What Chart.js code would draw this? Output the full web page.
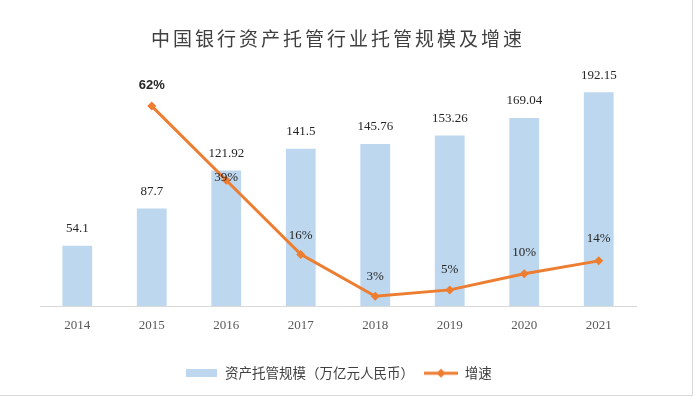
<!DOCTYPE html>
<html><head><meta charset="utf-8">
<script src="https://cdn.jsdelivr.net/npm/chart.js@4/dist/chart.umd.min.js"></script>
<style>html,body{margin:0;padding:0;background:#fff}#wrap{width:697px;height:399px;position:relative}</style>
</head><body><div id="wrap"><canvas id="c" width="697" height="399"></canvas></div>
<script>
// ---- data ----
const titleText = '中国银行资产托管行业托管规模及增速';
const years = ['2014', '2015', '2016', '2017', '2018', '2019', '2020', '2021'];
const scaleValues = [54.1, 87.7, 121.92, 141.5, 145.76, 153.26, 169.04, 192.15];
const growthValues = [null, 62, 39, 16, 3, 5, 10, 14];
const seriesNames = ['资产托管规模（万亿元人民币）', '增速'];

// ---- styles ----
const barColor = '#BDD7EE';
const lineColor = '#ED7D31';
const textColor = '#404040';
const labelColor = '#262626';
const growthLabelOffsets = [0, -21, -3, -19, -20, -20, -21, -22];

function makeBarIcon() {
  const c = document.createElement('canvas'); c.width = 31; c.height = 8;
  const x = c.getContext('2d'); x.fillStyle = barColor; x.fillRect(0, 0, 31, 8); return c;
}
function makeLineIcon() {
  const c = document.createElement('canvas'); c.width = 34; c.height = 10;
  const x = c.getContext('2d');
  x.strokeStyle = lineColor; x.lineWidth = 3; x.beginPath(); x.moveTo(0, 5); x.lineTo(34, 5); x.stroke();
  x.fillStyle = lineColor; x.beginPath(); x.moveTo(17, 0.5); x.lineTo(21.5, 5); x.lineTo(17, 9.5); x.lineTo(12.5, 5); x.closePath(); x.fill();
  return c;
}
const barIcon = makeBarIcon();
const lineIcon = makeLineIcon();

const frame = {
  id: 'frame',
  beforeDraw(chart) {
    const c = chart.ctx; c.save(); c.fillStyle = '#fff'; c.fillRect(0, 0, chart.width, chart.height); c.restore();
    const t = chart.titleBlock;
    if (t && !t.__patched) {
      const orig = t.draw.bind(t);
      t.draw = function () { const cx = this.ctx; cx.save(); cx.letterSpacing = '3px'; orig(); cx.restore(); };
      t.__patched = true;
    }
  },
  afterDraw(chart) {
    const c = chart.ctx; c.save(); c.strokeStyle = '#D9D9D9'; c.lineWidth = 1;
    c.beginPath(); c.moveTo(692.5, 0); c.lineTo(692.5, 395.5); c.lineTo(0, 395.5); c.stroke(); c.restore();
  }
};

const valueLabels = {
  id: 'valueLabels',
  afterDatasetsDraw(chart) {
    const c = chart.ctx;
    c.save();
    c.textAlign = 'center'; c.textBaseline = 'middle'; c.fillStyle = labelColor;
    c.font = '13px "Liberation Serif", "Times New Roman", serif';
    chart.getDatasetMeta(0).data.forEach((el, i) => {
      c.fillText(String(scaleValues[i]), el.x, el.y - 17);
    });
    chart.getDatasetMeta(1).data.forEach((el, i) => {
      const v = growthValues[i];
      if (v === null || v === undefined) return;
      if (i === 1) c.font = 'bold 13px "Liberation Sans", Arial, sans-serif';
      else c.font = '13px "Liberation Serif", "Times New Roman", serif';
      c.fillText(v + '%', el.x, el.y + growthLabelOffsets[i]);
    });
    c.restore();
  }
};

new Chart(document.getElementById('c'), {
  type: 'bar',
  data: {
    labels: years,
    datasets: [
      {
        type: 'bar', label: seriesNames[0], data: scaleValues, backgroundColor: barColor,
        yAxisID: 'y', order: 2, barPercentage: 0.4, categoryPercentage: 1
      },
      {
        type: 'line', label: seriesNames[1], data: growthValues, borderColor: lineColor,
        backgroundColor: lineColor, borderWidth: 3, pointStyle: 'rectRot', pointRadius: 4.5,
        pointBorderWidth: 0, pointBackgroundColor: lineColor, yAxisID: 'y1', order: 1, tension: 0
      }
    ]
  },
  options: {
    responsive: false,
    animation: false,
    events: [],
    layout: { padding: { left: 40, right: 61, top: 0, bottom: 9 } },
    scales: {
      x: {
        grid: { display: false, drawTicks: false },
        border: { display: true, color: '#D9D9D9', width: 1 },
        ticks: { color: '#595959', font: { family: '"Liberation Serif", "Times New Roman", serif', size: 13 }, padding: 12, maxRotation: 0, autoSkip: false },
        afterFit(s) { s.height = 50.5; }
      },
      y: { display: false, min: 0, max: 225 },
      y1: { display: false, min: 0, max: 77.6 }
    },
    plugins: {
      tooltip: { enabled: false },
      title: {
        display: true, text: titleText, color: textColor,
        font: { family: '"Noto Sans CJK SC", sans-serif', size: 19, weight: 'normal' },
        padding: { top: 27, bottom: 6 }
      },
      legend: {
        display: true, position: 'bottom',
        labels: {
          usePointStyle: true, pointStyleWidth: 34, boxHeight: 10, padding: 10,
          color: textColor,
          font: { family: '"Noto Sans CJK SC", sans-serif', size: 13.5 },
          generateLabels: () => [
            { text: seriesNames[0], pointStyle: barIcon, fillStyle: barColor, strokeStyle: barColor, lineWidth: 0, hidden: false, datasetIndex: 0, fontColor: textColor },
            { text: seriesNames[1], pointStyle: lineIcon, fillStyle: lineColor, strokeStyle: lineColor, lineWidth: 0, hidden: false, datasetIndex: 1, fontColor: textColor }
          ]
        }
      }
    }
  },
  plugins: [frame, valueLabels]
});
</script>
</body></html>
